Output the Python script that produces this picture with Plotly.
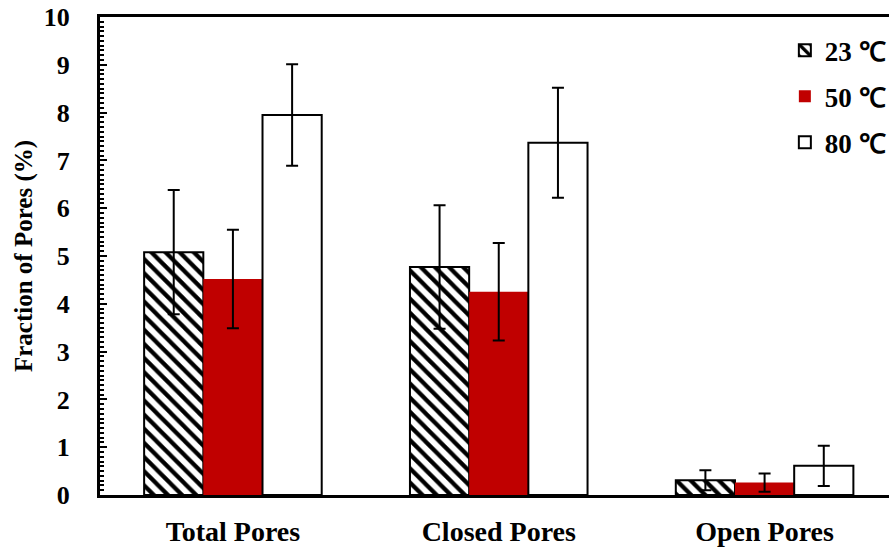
import plotly.graph_objects as go

# Pore fractions (%) by pore type and curing temperature
categories = ["Total Pores", "Closed Pores", "Open Pores"]
series_names = ["23 ℃", "50 ℃", "80 ℃"]
values_23 = [5.08, 4.77, 0.31]
values_50 = [4.52, 4.25, 0.26]
values_80 = [7.95, 7.37, 0.61]
err_23 = [1.30, 1.29, 0.21]
err_50 = [1.03, 1.02, 0.19]
err_80 = [1.06, 1.15, 0.42]

FONT = "Liberation Serif, Times New Roman, serif"
RED = "#C00000"

fig = go.Figure()

err_style = dict(type="data", visible=True, color="black", thickness=2, width=6)

fig.add_trace(go.Bar(
    x=categories, y=values_23, name=series_names[0], legendgroup="a",
    marker=dict(color="white", line=dict(color="black", width=2),
                pattern=dict(shape="\\", fgcolor="black", bgcolor="white",
                             size=10, solidity=0.42, fillmode="replace")),
    error_y=dict(array=err_23, **err_style),
))
fig.add_trace(go.Bar(
    x=categories, y=values_50, name=series_names[1], legendgroup="b",
    marker=dict(color=RED, line=dict(color=RED, width=0)),
    error_y=dict(array=err_50, **err_style),
))
fig.add_trace(go.Bar(
    x=categories, y=values_80, name=series_names[2], legendgroup="c",
    marker=dict(color="white", line=dict(color="black", width=2)),
    error_y=dict(array=err_80, **err_style),
))

fig.update_layout(
    width=891, height=548,
    margin=dict(l=100, r=0, t=17, b=53),
    paper_bgcolor="white", plot_bgcolor="white",
    barmode="group", bargap=0.332, bargroupgap=0,
    font=dict(family=FONT, size=26, color="black"),
    showlegend=True,
    legend=dict(
        x=0.868, y=0.981, xanchor="left", yanchor="top",
        traceorder="grouped", tracegroupgap=8,
        font=dict(family=FONT, size=27, color="black", weight="bold"),
        bgcolor="rgba(0,0,0,0)", itemwidth=30,
    ),
    xaxis=dict(
        range=[-0.5, 2.468],
        showline=True, linecolor="black", linewidth=3, mirror=True,
        ticks="", showgrid=False, zeroline=False,
        tickfont=dict(family=FONT, size=28, color="black", weight="bold"),
        ticklabelstandoff=9,
    ),
    yaxis=dict(
        range=[0, 10], dtick=1,
        showline=True, linecolor="black", linewidth=3, mirror=False,
        ticks="inside", ticklen=7, tickwidth=2, tickcolor="black",
        minor=dict(dtick=0.1, ticks="inside", ticklen=4, tickwidth=2,
                   tickcolor="black", showgrid=False),
        showgrid=False, zeroline=False,
        tickfont=dict(family=FONT, size=26, color="black", weight="bold"),
        ticklabelstandoff=22,
        title=dict(text="Fraction of Pores (%)", standoff=5,
                   font=dict(family=FONT, size=25, color="black", weight="bold")),
    ),
)

fig.write_html("out.html")
